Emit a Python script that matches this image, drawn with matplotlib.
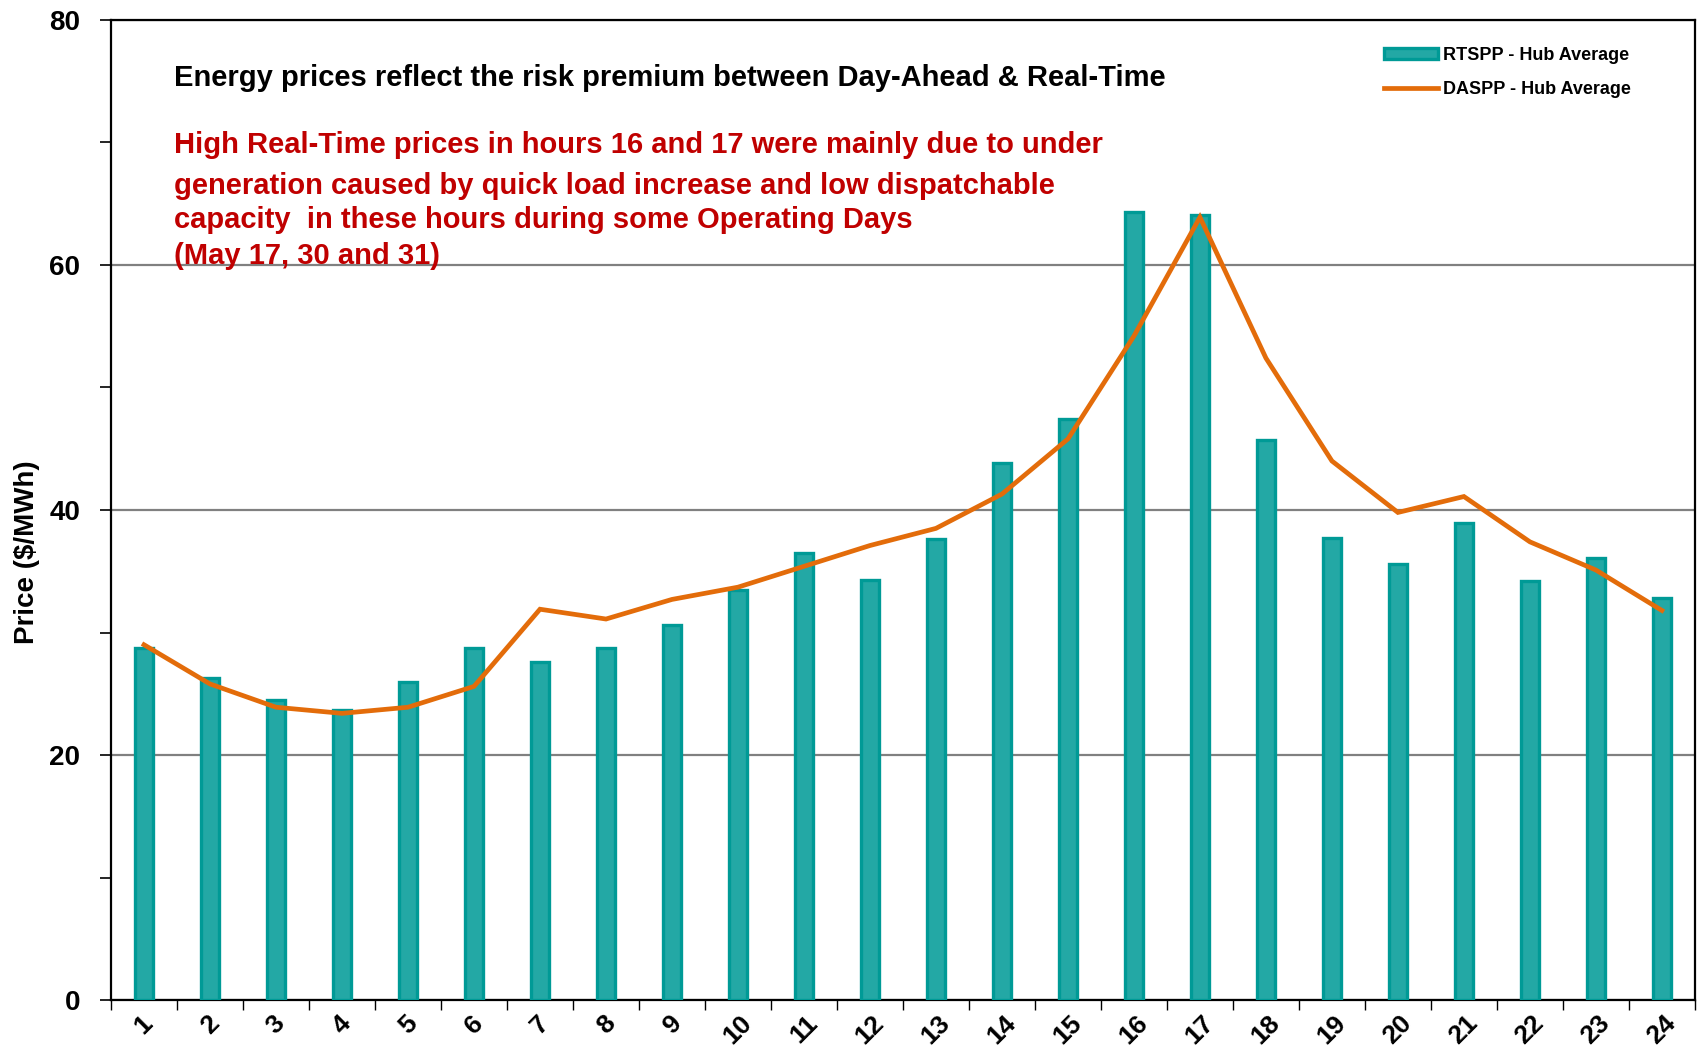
import matplotlib
matplotlib.use("Agg")
import matplotlib.pyplot as plt
import numpy as np

plt.rcParams["font.family"] = ["Liberation Sans", "DejaVu Sans"]
plt.rcParams["font.weight"] = "bold"

# ---- data ----
hours = list(range(1, 25))
rtspp = [28.7, 26.3, 24.5, 23.7, 26.0, 28.7, 27.6, 28.7, 30.6, 33.5, 36.5, 34.3,
         37.6, 43.8, 47.4, 64.3, 64.1, 45.7, 37.7, 35.6, 38.9, 34.2, 36.1, 32.8]
daspp = [29.0, 25.8, 23.9, 23.4, 23.9, 25.6, 31.9, 31.1, 32.7, 33.7, 35.4, 37.1,
         38.5, 41.3, 45.8, 54.2, 63.9, 52.4, 44.0, 39.8, 41.1, 37.4, 35.1, 31.8]
y_ticks = [0, 20, 40, 60, 80]

TEAL = "#23A8A5"
TEAL_EDGE = "#009A96"
ORANGE = "#E36C0A"
RED = "#C00000"

fig = plt.figure(figsize=(17, 10.51), dpi=100)
ax = fig.add_axes([0.0653, 0.0485, 0.9317, 0.9325])

x = np.array(hours)
bars = ax.bar(x, rtspp, width=0.27, color=TEAL, edgecolor=TEAL_EDGE, linewidth=2.4,
              label="RTSPP - Hub Average", zorder=3)
line, = ax.plot(x, daspp, color=ORANGE, linewidth=3.4, label="DASPP - Hub Average",
                zorder=4, solid_joinstyle="miter")

ax.set_xlim(0.5, 24.5)
ax.set_ylim(0, 80)

# y axis: labels every 20, ticks every 10, grid at 20/40/60
ax.set_yticks(y_ticks)
ax.set_yticklabels([str(v) for v in y_ticks], fontsize=20, fontweight="bold")
ax.set_yticks(np.arange(10, 80, 20), minor=True)
ax.yaxis.grid(True, which="major", color="#808080", linewidth=1.6, zorder=1)
ax.tick_params(axis="y", which="both", length=8, width=1.2, direction="out", pad=14)

# x axis: ticks at category boundaries, labels at centres
ax.set_xticks(np.arange(0.5, 25, 1))
ax.set_xticklabels([])
ax.tick_params(axis="x", which="major", length=7, width=1.0, direction="out")
ax.set_xticks(x, minor=True)
ax.set_xticklabels([str(h) for h in hours], minor=True, rotation=45,
                   fontsize=19, fontweight="bold", ha="center")
ax.tick_params(axis="x", which="minor", length=0, pad=8)

for s in ax.spines.values():
    s.set_linewidth(1.6)
    s.set_color("black")

fig.text(0.016, 0.475, "Price ($/MWh)", rotation=90, fontsize=20,
         fontweight="bold", ha="center", va="center")

ax.text(0.040, 0.941, "Energy prices reflect the risk premium between Day-Ahead & Real-Time",
        transform=ax.transAxes, fontsize=21, fontweight="bold", color="black",
        ha="left", va="center")
red_lines = [
    "High Real-Time prices in hours 16 and 17 were mainly due to under",
    "generation caused by quick load increase and low dispatchable",
    "capacity  in these hours during some Operating Days",
    "(May 17, 30 and 31)",
]
red_y = [0.872, 0.831, 0.796, 0.759]
for txt, yy in zip(red_lines, red_y):
    ax.text(0.040, yy, txt, transform=ax.transAxes, fontsize=21,
            fontweight="bold", color=RED, ha="left", va="center")

leg = ax.legend([bars, line], ["RTSPP - Hub Average", "DASPP - Hub Average"],
                loc="upper right", bbox_to_anchor=(0.970, 0.989), frameon=False,
                fontsize=13, handlelength=3.0, handleheight=0.55,
                labelspacing=0.95, handletextpad=0.3)
for t in leg.get_texts():
    t.set_fontweight("bold")

fig.savefig("out.png", dpi=100)
